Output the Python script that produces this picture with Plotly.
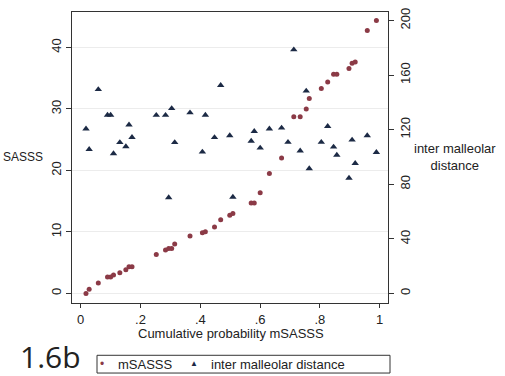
import plotly.graph_objects as go

# Data
cum_prob = [0.0177, 0.0283, 0.0589, 0.0897, 0.1000, 0.1097, 0.1309, 0.1510, 0.1615, 0.1716,
            0.2528, 0.2837, 0.2943, 0.3043, 0.3144, 0.3656, 0.4070, 0.4169, 0.4475, 0.4682,
            0.4985, 0.5090, 0.5702, 0.5805, 0.6003, 0.6311, 0.6719, 0.6933, 0.7127, 0.7341,
            0.7543, 0.7645, 0.8047, 0.8261, 0.8458, 0.8567, 0.8973, 0.9077, 0.9181, 0.9585,
            0.9890]
msasss = [0.0, 0.69, 1.70, 2.66, 2.66, 2.98, 3.37, 3.85, 4.35, 4.35,
          6.35, 7.06, 7.32, 7.32, 8.02, 9.35, 9.87, 10.03, 10.80, 11.97,
          12.72, 13.0, 14.70, 14.70, 16.36, 19.51, 22.03, None, 28.72, 28.72,
          30.0, 31.70, 33.34, 34.38, 35.63, 35.63, 36.58, 37.43, 37.64, 42.77,
          44.38]
imd = [120.6, 105.6, 149.5, 130.7, 130.7, 102.5, 110.7, 107.6, 123.6, 114.4,
       130.6, 130.6, 70.3, 135.6, 110.7, 132.5, 103.7, 130.7, 114.3, 152.5,
       115.7, 70.6, 111.7, 118.8, 106.6, 120.6, 121.3, 110.8, 178.6, 104.5,
       148.4, 91.5, 110.8, 122.5, 107.4, 101.4, 84.6, 112.5, 95.4, 115.7,
       103.4]
x_ticks = [0, 0.2, 0.4, 0.6, 0.8, 1]
x_ticklabels = ["0", ".2", ".4", ".6", ".8", "1"]
y_ticks = [0, 10, 20, 30, 40]
y2_ticks = [0, 40, 80, 120, 160, 200]

RED = "#8b3a46"
NAVY = "#1c2a45"
AXIS = "#333333"
FONT = "Liberation Sans, Arial, sans-serif"

fig = go.Figure()
fig.add_trace(go.Scatter(x=cum_prob, y=msasss, mode="markers", name="mSASSS",
                         marker=dict(color=RED, size=5), showlegend=False))
fig.add_trace(go.Scatter(x=cum_prob, y=imd, mode="markers", name="inter malleolar distance",
                         yaxis="y2",
                         marker=dict(color=NAVY, size=6.5, symbol="triangle-up"),
                         showlegend=False))

L, R, T, B = 72, 117, 8, 73
W, H = 505, 376
pw, ph = W - L - R, H - T - B

def px(x):
    return (x - L) / pw

def py(y):
    return (H - B - y) / ph

fig.update_layout(
    width=W, height=H,
    margin=dict(l=L, r=R, t=T, b=B, pad=0),
    paper_bgcolor="white", plot_bgcolor="white",
    font=dict(family=FONT, size=13, color="#222222"),
    xaxis=dict(range=[-0.0291, 1.0278], tickvals=x_ticks, ticktext=x_ticklabels,
               showgrid=False, zeroline=False, showline=True, linecolor=AXIS,
               linewidth=1, mirror=True, ticks="outside", ticklen=4, tickcolor=AXIS,
               tickfont=dict(size=13)),
    yaxis=dict(range=[-1.556, 45.77], tickvals=y_ticks, showgrid=True,
               gridcolor="#ececec", gridwidth=1, zeroline=False, showline=True,
               linecolor=AXIS, linewidth=1, ticks="outside", ticklen=5,
               tickcolor=AXIS, tickangle=-90, tickfont=dict(size=13)),
    yaxis2=dict(range=[-7.01, 206.25], tickvals=y2_ticks, overlaying="y", side="right",
                showgrid=False, zeroline=False, showline=True, linecolor=AXIS,
                linewidth=1, ticks="outside", ticklen=5, tickcolor=AXIS,
                tickangle=-90, tickfont=dict(size=13)),
    showlegend=False,
)

ann = []
ann.append(dict(text="Cumulative probability mSASSS", x=px(231), y=py(334),
                xref="paper", yref="paper", showarrow=False, font=dict(size=13),
                xanchor="center", yanchor="middle"))
ann.append(dict(text="SASSS", x=px(1), y=py(155), xref="paper", yref="paper",
                showarrow=False, font=dict(size=12), xanchor="left", yanchor="middle"))
ann.append(dict(text="inter malleolar<br>distance", x=px(455), y=py(155),
                xref="paper", yref="paper", showarrow=False, font=dict(size=13),
                xanchor="center", yanchor="middle", align="center"))
ann.append(dict(text="1.6b", x=px(18), y=py(357), xref="paper", yref="paper",
                showarrow=False, font=dict(size=30, family="Open Sans, sans-serif",
                                           color="#222222"),
                xanchor="left", yanchor="middle"))
# legend contents
ann.append(dict(text="•", x=px(102), y=py(365), xref="paper", yref="paper",
                showarrow=False, font=dict(size=12, color=RED),
                xanchor="center", yanchor="middle"))
ann.append(dict(text="mSASSS", x=px(116), y=py(365), xref="paper", yref="paper",
                showarrow=False, font=dict(size=13), xanchor="left", yanchor="middle"))
ann.append(dict(text="▲", x=px(194), y=py(364), xref="paper", yref="paper",
                showarrow=False, font=dict(size=8, color=NAVY),
                xanchor="center", yanchor="middle"))
ann.append(dict(text="inter malleolar distance", x=px(209), y=py(365), xref="paper",
                yref="paper", showarrow=False, font=dict(size=13),
                xanchor="left", yanchor="middle"))
fig.update_layout(annotations=ann)
fig.add_shape(type="rect", xref="paper", yref="paper",
              x0=px(97), x1=px(390), y0=py(356), y1=py(374),
              line=dict(color=AXIS, width=1), fillcolor="rgba(0,0,0,0)")

fig.write_html("out.html", config={"displayModeBar": False},
               post_script="document.body.style.margin='0';document.body.style.overflow='hidden';")
